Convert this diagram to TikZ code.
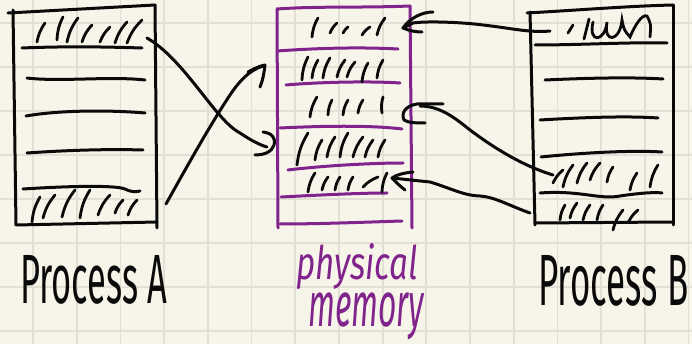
\documentclass[tikz,border=0pt]{standalone}
\usepackage{fontspec}
\usepackage{graphicx}
\setmainfont{Fira Sans}
\definecolor{paper}{RGB}{247,245,234}
\definecolor{gridline}{RGB}{226,224,212}
\definecolor{ink}{RGB}{10,10,10}
\definecolor{plum}{RGB}{128,36,140}
\tikzset{
  pen/.style={draw=ink, line width=3pt, line cap=round, line join=round},
  mempen/.style={draw=plum, line width=3pt, line cap=round, line join=round},
  hatch/.style={draw=ink, line width=2.8pt, line cap=round},
  label/.style={inner sep=0pt, text=ink},
}
\begin{document}
\begin{tikzpicture}[x=1pt,y=-1pt]
% paper and grid
\fill[paper] (0,0) rectangle (692,344);
\useasboundingbox (0,0) rectangle (692,344);
\foreach \k in {0,...,15} \draw[gridline, line width=1.8pt] ({33+43.7*\k},0) -- ({33+43.7*\k},344);
\foreach \k in {0,...,7} \draw[gridline, line width=1.8pt] (0,{23.3+43.9*\k}) -- (692,{23.3+43.9*\k});

% ---------- Process A page table ----------
\draw[pen] (8,13) -- (155,5);
\draw[pen] (155,5) -- (157,228);
\draw[pen] (13,10) -- (16,225);
\draw[pen] (16,225) -- (157,222);
\draw[pen] (22,48) .. controls (70,46) and (110,47) .. (142,48);
\draw[pen] (27,78) .. controls (60,82) and (110,76) .. (145,80);
\draw[pen] (26,116) .. controls (60,110) and (110,110) .. (145,113);
\draw[pen] (27,153) .. controls (70,150) and (110,149) .. (143,150);
\draw[pen] (23,189) .. controls (70,186) and (115,185) .. (125,189) .. controls (130,192) and (136,192) .. (140,191);
\foreach \a/\b/\c/\d in {37/42/45/23, 57/40/63/17, 67/42/78/18, 82/42/92/25, 100/42/110/27, 115/43/127/22, 127/43/142/20,
                        32/222/40/197, 43/218/55/195, 62/217/75/190, 80/218/90/190, 98/215/110/195, 115/213/123/200, 128/215/137/200}
  \draw[hatch] (\c,\d) to[bend right=12] (\a,\b);

% ---------- physical memory ----------
\draw[mempen] (277,9) .. controls (320,6) and (360,8) .. (410,6);
\draw[mempen] (277,9) -- (278,228);
\draw[mempen] (410,6) -- (412,228);
\draw[mempen] (277,51) .. controls (320,48) and (360,47) .. (398,49);
\draw[mempen] (286,85) .. controls (320,82) and (370,81) .. (400,83);
\draw[mempen] (280,128) .. controls (320,126) and (370,125) .. (402,129);
\draw[mempen] (288,170) .. controls (320,166) and (370,163) .. (403,163);
\draw[mempen] (281,197) .. controls (320,195) and (360,193) .. (387,193);
\draw[mempen] (280,224) .. controls (320,224) and (370,222) .. (402,221);
\foreach \a/\b/\c/\d in {312/37/318/18, 330/33/337/23, 343/33/348/27, 362/35/370/27, 377/35/385/18,
                        302/80/308/57, 312/78/318/60, 323/78/330/58, 337/77/345/60, 347/77/355/62, 362/82/368/63, 377/78/383/60,
                        310/117/317/97, 328/115/332/100, 343/115/348/100, 358/113/363/100, 382/113/383/97,
                        297/165/308/133, 315/160/322/140, 327/157/335/137, 340/157/348/133, 353/157/363/137, 365/157/373/140, 378/157/385/140,
                        308/192/315/173, 322/190/328/177, 335/190/340/177, 348/190/353/177, 363/187/378/177, 382/192/387/173}
  \draw[hatch] (\c,\d) to[bend right=12] (\a,\b);

% ---------- Process B page table ----------
\draw[pen] (527,13) .. controls (580,10) and (630,6) .. (673,5);
\draw[pen] (673,5) -- (673,225);
\draw[pen] (530,12) -- (535,225);
\draw[pen] (535,223) -- (672,222);
\draw[pen] (535,45) .. controls (580,45) and (630,42) .. (667,43);
\draw[pen] (545,80) .. controls (590,78) and (630,77) .. (663,79);
\draw[pen] (540,120) .. controls (590,117) and (630,116) .. (658,118);
\draw[pen] (541,157) .. controls (580,153) and (630,150) .. (662,152);
\draw[pen] (540,193) .. controls (580,190) and (600,200) .. (620,196) .. controls (640,193) and (655,192) .. (662,193);
\draw[hatch] (573,25) -- (568,33);
\draw[hatch] (589,19) -- (584,39);
\draw[hatch] (593,22) .. controls (588,44) and (605,42) .. (607,22)
                      .. controls (603,44) and (620,42) .. (622,20)
                      .. controls (624,30) .. (630,37)
                      .. controls (635,25) and (642,14) .. (647,16)
                      .. controls (651,24) .. (650,37);
\foreach \a/\b/\c/\d in {553/183/563/170, 563/187/573/165, 577/183/587/163, 590/180/600/163, 607/182/613/167, 630/190/637/173, 650/187/658/165,
                        560/220/565/205, 570/218/577/203, 583/220/590/205, 597/220/603/205, 613/230/623/210, 628/223/638/210}
  \draw[hatch] (\c,\d) to[bend right=12] (\a,\b);

% ---------- mapping arrows ----------
\coordinate (aTop) at (147,38);
\coordinate (aBot) at (166,204);
\coordinate (m4) at (267,147);
\coordinate (m2) at (263,66);
\coordinate (bTop) at (550,31);
\coordinate (bMid) at (553,175);
\coordinate (bBot) at (530,213);
\coordinate (m1) at (403,28);
\coordinate (m3) at (420,106);
\coordinate (m5) at (392,178);

% A, first page -> frame 4
\draw[pen] (aTop) .. controls (185,60) and (215,120) .. (240,133) .. controls (252,141) and (260,145) .. (m4);
\draw[pen] (263,132) .. controls (272,133) and (276,138) .. (274,145) .. controls (272,152) and (264,155) .. (255,155);
% A, last page -> frame 2
\draw[pen] (aBot) .. controls (185,170) and (210,125) .. (230,95) .. controls (240,80) and (250,70) .. (m2);
\draw[pen] (248,72) .. controls (255,68) and (260,66) .. (265,65) .. controls (264,73) and (263,80) .. (260,87);
% B, first page -> frame 1
\draw[pen] (bTop) .. controls (530,33) and (510,28) .. (483,25) .. controls (460,22) and (425,21) .. (413,23) -- (m1);
\draw[pen] (433,12) .. controls (422,12) and (410,18) .. (m1) .. controls (410,31) and (416,32) .. (422,32);
% B, fourth page -> frame 3
\draw[pen] (bMid) .. controls (520,165) and (490,145) .. (470,130) .. controls (455,118) and (440,106) .. (m3);
\draw[pen] (443,104) -- (417,104) .. controls (405,106) and (401,113) .. (404,120) .. controls (408,123) and (418,123) .. (425,123);
% B, last page -> frame 5
\draw[pen] (bBot) .. controls (510,206) and (495,197) .. (480,196) .. controls (465,196) and (450,188) .. (430,182) -- (m5);
\draw[pen] (413,172) .. controls (403,173) and (396,175) .. (m5) .. controls (398,184) and (401,187) .. (405,190);

% ---------- labels ----------
\node[label, anchor=base west] (procA) at (20,303) {\resizebox{147pt}{48pt}{Process A}};
\node[label, anchor=base west] (procB) at (538,305) {\resizebox{150pt}{50pt}{Process B}};
\node[label, text=plum, anchor=north west] (phys) at (296,243) {\resizebox*{122pt}{46pt}{\itshape physical}};
\node[label, text=plum, anchor=north west] (mem) at (308,293) {\resizebox*{116pt}{47pt}{\itshape memory}};
\end{tikzpicture}
\end{document}
